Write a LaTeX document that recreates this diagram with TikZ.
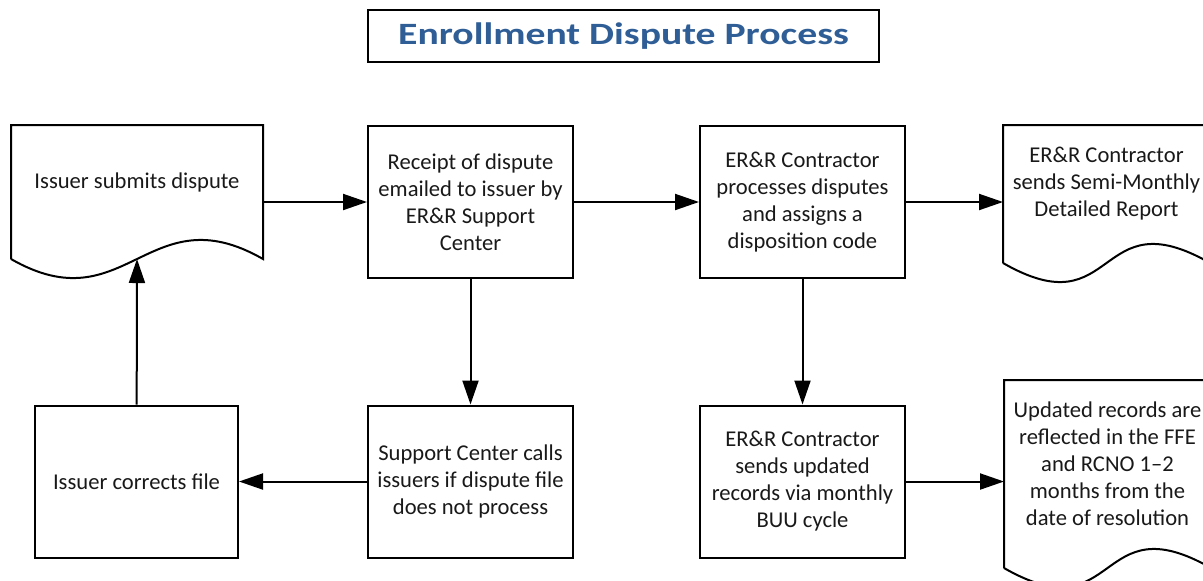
\documentclass[tikz,border=0pt]{standalone}
\usepackage{fontspec}
\setmainfont{Carlito}
\usepackage{tikz}
\usetikzlibrary{arrows.meta,calc}

\definecolor{titleblue}{RGB}{47,94,150}

% outline of a document shape around a (not drawn) node
\newcommand{\docoutline}[1]{%
	\draw ($(#1.south west)+(0,20)$) -- (#1.north west) -- (#1.north east)
		-- ($(#1.south east)+(0,20)$)
		.. controls +(-115,-66) and +(115,66) .. ($(#1.south west)+(0,20)$);}

\begin{document}
\begin{tikzpicture}[x=0.5pt,y=-0.5pt,line width=1pt,
	>={Triangle[length=12pt,width=8pt]},
	every node/.style={font=\fontsize{11.3}{13.5}\selectfont,
		align=center,text=black!90,inner sep=0pt},
	stepbox/.style={draw,minimum width=102.5pt,minimum height=76pt},
	docbox/.style={minimum width=102.5pt},
	titlebox/.style={draw,minimum width=255.5pt,minimum height=26pt,
		font=\fontsize{15.5}{18}\selectfont\bfseries,text=titleblue}]
	\path [use as bounding box,clip] (0,0) rectangle (1203,580);

	\node [titlebox] (title) at (623.5,36)
		{\scalebox{1.28}[1]{Enrollment Dispute Process}};

	% top row
	\node [docbox,minimum width=125pt,minimum height=56pt] (submit) at (137,182)
		{Issuer submits dispute};
	\node [stepbox] (receipt) at (470.5,202)
		{Receipt of dispute\\ emailed to issuer by\\ ER\&R Support\\ Center};
	\node [stepbox] (process) at (802.5,202)
		{ER\&R Contractor\\ processes disputes\\ and assigns a\\ disposition code};
	\node [docbox,minimum height=58pt] (report) at (1106.5,184)
		{ER\&R Contractor\\ sends Semi-Monthly\\ Detailed Report};

	% bottom row
	\node [stepbox,minimum width=101.5pt] (corrects) at (136.5,481.5)
		{Issuer corrects file};
	\node [stepbox] (calls) at (470.5,481.5)
		{Support Center calls\\ issuers if dispute file\\ does not process};
	\node [stepbox] (sendupd) at (802.5,481.5)
		{ER\&R Contractor\\ sends updated\\ records via monthly\\ BUU cycle};
	\node [docbox,minimum height=83pt] (reflected) at (1107.5,464)
		{Updated records are\\ reflected in the FFE\\ and RCNO 1--2\\ months from the\\ date of resolution};

	\docoutline{submit}
	\docoutline{report}
	\docoutline{reflected}
	\coordinate (submitwave) at ($(submit.south)+(0,20)$);

	\draw [->] (submit.east |- receipt.west) -- (receipt.west);
	\draw [->] (receipt) -- (process);
	\draw [->] (process.east) -- (process.east -| report.west);
	\draw [->] (receipt) -- (calls);
	\draw [->] (process) -- (sendupd);
	\draw [->] (calls) -- (corrects);
	\draw [->] (sendupd.east) -- (sendupd.east -| reflected.west);
	\draw [->] (corrects) -- (submitwave);
\end{tikzpicture}
\end{document}
